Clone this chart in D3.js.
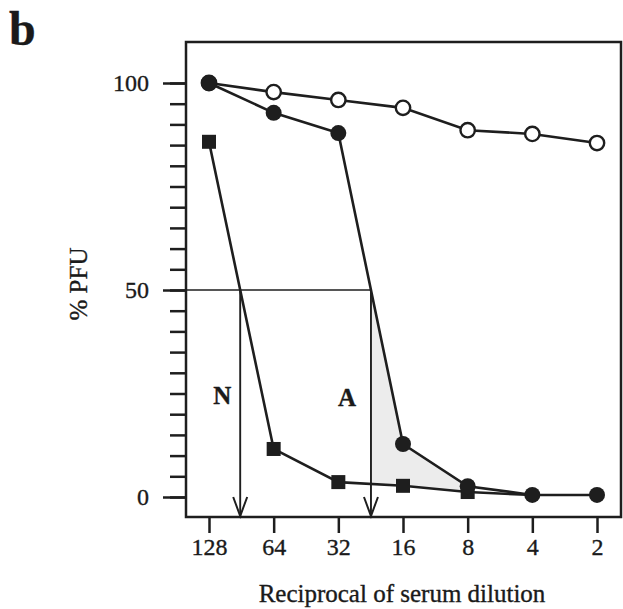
<!DOCTYPE html>
<html>
<head>
  <meta charset="utf-8">
  <script src="https://d3js.org/d3.v7.min.js"></script>
  <style>
    body { margin: 0; background: #fff; }
    svg text { font-family: "Liberation Serif", "Times New Roman", serif; fill: #1a1a1a; stroke: #1a1a1a; stroke-width: 0.35px; }
  </style>
</head>
<body>
<svg id="chart" width="623" height="609"></svg>
<script>
// dilutions (reciprocal), left to right
var dilutions = [128, 64, 32, 16, 8, 4, 2];
// % PFU per series
var openCircles = [100, 97.8, 95.9, 94, 88.6, 87.7, 85.5];
var filledCircles = [100, 92.8, 87.9, 12.8, 2.6, 0.5, 0.5];
var squares = [85.8, 11.6, 3.6, 2.7, 1.2, 0.5];
var yMajor = [0, 50, 100];
var yMinor = d3.range(0, 101, 5);
var halfLevel = 50;

var ink = "#1e1e1e";
var svg = d3.select("#chart");

var box = {left: 186, top: 42, right: 621, bottom: 517};

var x = d3.scaleLog().base(2).domain([128, 2]).range([209, 597]);
var y = d3.scaleLinear().domain([0, 100]).range([497, 83]);

// panel letter
svg.append("text").attr("x", 9).attr("y", 45)
  .style("font-size", "48px").style("font-weight", "bold").text("b");

// shaded area between filled circles and squares, right of the A arrow
function crossing(vals) {
  for (var i = 0; i < vals.length - 1; i++) {
    if (vals[i] >= halfLevel && vals[i+1] < halfLevel) {
      var t = (vals[i] - halfLevel) / (vals[i] - vals[i+1]);
      return x(dilutions[i]) + t * (x(dilutions[i+1]) - x(dilutions[i]));
    }
  }
}
function valueAt(vals, px) {
  for (var i = 0; i < vals.length - 1; i++) {
    var a = x(dilutions[i]), b = x(dilutions[i+1]);
    if (px >= a && px <= b) {
      var t = (px - a) / (b - a);
      return y(vals[i]) + t * (y(vals[i+1]) - y(vals[i]));
    }
  }
}
var xN = crossing(squares);
var xA = crossing(filledCircles);

var shade = [[xA, y(halfLevel)], [xA, valueAt(squares, xA)]];
dilutions.forEach(function(d, i) {
  if (x(d) > xA && d >= 8) shade.push([x(d), y(squares[i])]);
});
for (var i = dilutions.length - 1; i >= 0; i--) {
  if (x(dilutions[i]) > xA && dilutions[i] >= 8) shade.push([x(dilutions[i]), y(filledCircles[i])]);
}
svg.append("polygon").attr("points", shade.map(function(p) { return p.join(","); }).join(" "))
  .attr("fill", "#ececec");

// frame
svg.append("rect").attr("x", box.left).attr("y", box.top)
  .attr("width", box.right - box.left).attr("height", box.bottom - box.top)
  .attr("fill", "none").attr("stroke", ink).attr("stroke-width", 2.5);

// y axis: minor and major ticks
var yMinorAxis = svg.append("g").attr("transform", "translate(" + box.left + ",0)")
  .call(d3.axisLeft(y).tickValues(yMinor).tickSize(16).tickFormat(""));
var yMajorAxis = svg.append("g").attr("transform", "translate(" + box.left + ",0)")
  .call(d3.axisLeft(y).tickValues(yMajor).tickSize(23).tickPadding(14).tickFormat(d3.format("d")));
[yMinorAxis, yMajorAxis].forEach(function(g) {
  g.select(".domain").remove();
  g.selectAll("line").attr("stroke", ink).attr("stroke-width", 2.5);
  g.selectAll("text").style("font-size", "24px").attr("font-family", null).attr("fill", ink);
});

// x axis
var xAxis = svg.append("g").attr("transform", "translate(0," + box.bottom + ")")
  .call(d3.axisBottom(x).tickValues(dilutions).tickSize(16).tickPadding(5).tickFormat(d3.format("d")));
xAxis.select(".domain").remove();
xAxis.selectAll("line").attr("stroke", ink).attr("stroke-width", 2.5);
xAxis.selectAll("text").style("font-size", "24px").attr("font-family", null).attr("fill", ink);

// axis titles
svg.append("text").attr("transform", "translate(87,284) rotate(-90)")
  .attr("text-anchor", "middle").style("font-size", "25px").text("% PFU");
svg.append("text").attr("x", 402).attr("y", 602)
  .attr("text-anchor", "middle").style("font-size", "25px").text("Reciprocal of serum dilution");

// 50% line and arrows
svg.append("line").attr("x1", box.left).attr("x2", xA)
  .attr("y1", y(halfLevel)).attr("y2", y(halfLevel))
  .attr("stroke", ink).attr("stroke-width", 1.6);
[xN, xA].forEach(function(px) {
  svg.append("line").attr("x1", px).attr("x2", px)
    .attr("y1", y(halfLevel)).attr("y2", box.bottom - 1)
    .attr("stroke", ink).attr("stroke-width", 1.9);
  svg.append("path")
    .attr("d", "M" + (px - 7) + "," + (box.bottom - 20) + "L" + px + "," + (box.bottom - 1) + "L" + (px + 7) + "," + (box.bottom - 20))
    .attr("fill", "none").attr("stroke", ink).attr("stroke-width", 2);
});
svg.append("text").attr("x", xN - 18).attr("y", 404).attr("text-anchor", "middle")
  .style("font-size", "25px").style("font-weight", "bold").text("N");
svg.append("text").attr("x", xA - 24).attr("y", 406).attr("text-anchor", "middle")
  .style("font-size", "25px").style("font-weight", "bold").text("A");

// series lines
var line = d3.line().x(function(d) { return x(d[0]); }).y(function(d) { return y(d[1]); });
function pairs(vals) { return vals.map(function(v, i) { return [dilutions[i], v]; }); }

[openCircles, squares, filledCircles].forEach(function(vals) {
  svg.append("path").datum(pairs(vals)).attr("d", line)
    .attr("fill", "none").attr("stroke", ink).attr("stroke-width", 2.6);
});

// markers
svg.append("g").selectAll("circle").data(pairs(openCircles)).join("circle")
  .attr("cx", function(d) { return x(d[0]); }).attr("cy", function(d) { return y(d[1]); })
  .attr("r", 7.2).attr("fill", "#fff").attr("stroke", ink).attr("stroke-width", 2.4);
svg.append("g").selectAll("rect").data(pairs(squares).slice(0, 5)).join("rect")
  .attr("x", function(d) { return x(d[0]) - 7; }).attr("y", function(d) { return y(d[1]) - 7; })
  .attr("width", 14).attr("height", 14).attr("fill", ink);
svg.append("g").selectAll("circle").data(pairs(filledCircles)).join("circle")
  .attr("cx", function(d) { return x(d[0]); }).attr("cy", function(d) { return y(d[1]); })
  .attr("r", 8).attr("fill", ink);
</script>
</body>
</html>
